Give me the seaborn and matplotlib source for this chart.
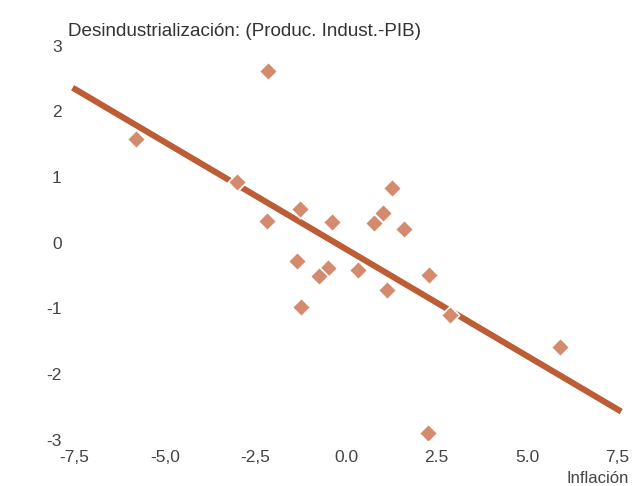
import matplotlib
matplotlib.use("Agg")
import matplotlib.pyplot as plt
import seaborn as sns
import pandas as pd

# Inflation vs. deindustrialisation (industrial production growth minus GDP growth)
inflacion = [-5.81, -2.16, -3.00, -2.19, -1.27, -0.40, -1.35, -0.49, -0.75, 0.33,
             -1.25, 0.78, 1.01, 1.26, 1.61, 1.12, 2.29, 2.87, 5.91, 2.27]
desind = [1.58, 2.62, 0.92, 0.33, 0.52, 0.32, -0.28, -0.38, -0.51, -0.42,
          -0.98, 0.30, 0.46, 0.83, 0.21, -0.72, -0.49, -1.10, -1.59, -2.90]

# Fitted trend line end points
trend_x = [-7.55, 7.60]
trend_y = [2.36, -2.57]

x_ticks = [-7.5, -5.0, -2.5, 0.0, 2.5, 5.0, 7.5]
x_tick_labels = ["-7,5", "-5,0", "-2,5", "0.0", "2.5", "5.0", "7,5"]
y_ticks = [-3, -2, -1, 0, 1, 2, 3]

sns.set_theme(style="white")
plt.rcParams["font.family"] = ["Liberation Sans", "DejaVu Sans"]
plt.rcParams["axes.unicode_minus"] = False

fig = plt.figure(figsize=(6.34, 4.86), dpi=100)
ax = fig.add_axes([0.106, 0.095, 0.891, 0.811])

sns.lineplot(x=trend_x, y=trend_y, ax=ax, color="#bc5d36", linewidth=4.4,
             solid_capstyle="butt", zorder=2)

df = pd.DataFrame({"x": inflacion, "y": desind})
sns.scatterplot(data=df, x="x", y="y", ax=ax, marker="D", s=88,
                color="#d48a6c", edgecolor="white", linewidth=1.2, zorder=3)

ax.set_xlim(-7.7, 7.9)
ax.set_ylim(-3, 3)
ax.set_xticks(x_ticks)
ax.set_xticklabels(x_tick_labels)
ax.set_yticks(y_ticks)
ax.set_xlabel("")
ax.set_ylabel("")
ax.tick_params(axis="both", length=0, labelsize=12.5, labelcolor="#444444")
ax.tick_params(axis="x", pad=7)
ax.tick_params(axis="y", pad=4)
for side in ax.spines.values():
    side.set_visible(False)

fig.text(68 / 634, 1 - 31 / 486, "Desindustrialización: (Produc. Indust.-PIB)",
         ha="left", va="center", fontsize=13.6, color="#333333")
fig.text(629 / 634, 1 - 478 / 486, "Inflación",
         ha="right", va="center", fontsize=12, color="#444444")

fig.savefig("out.png", dpi=100)
